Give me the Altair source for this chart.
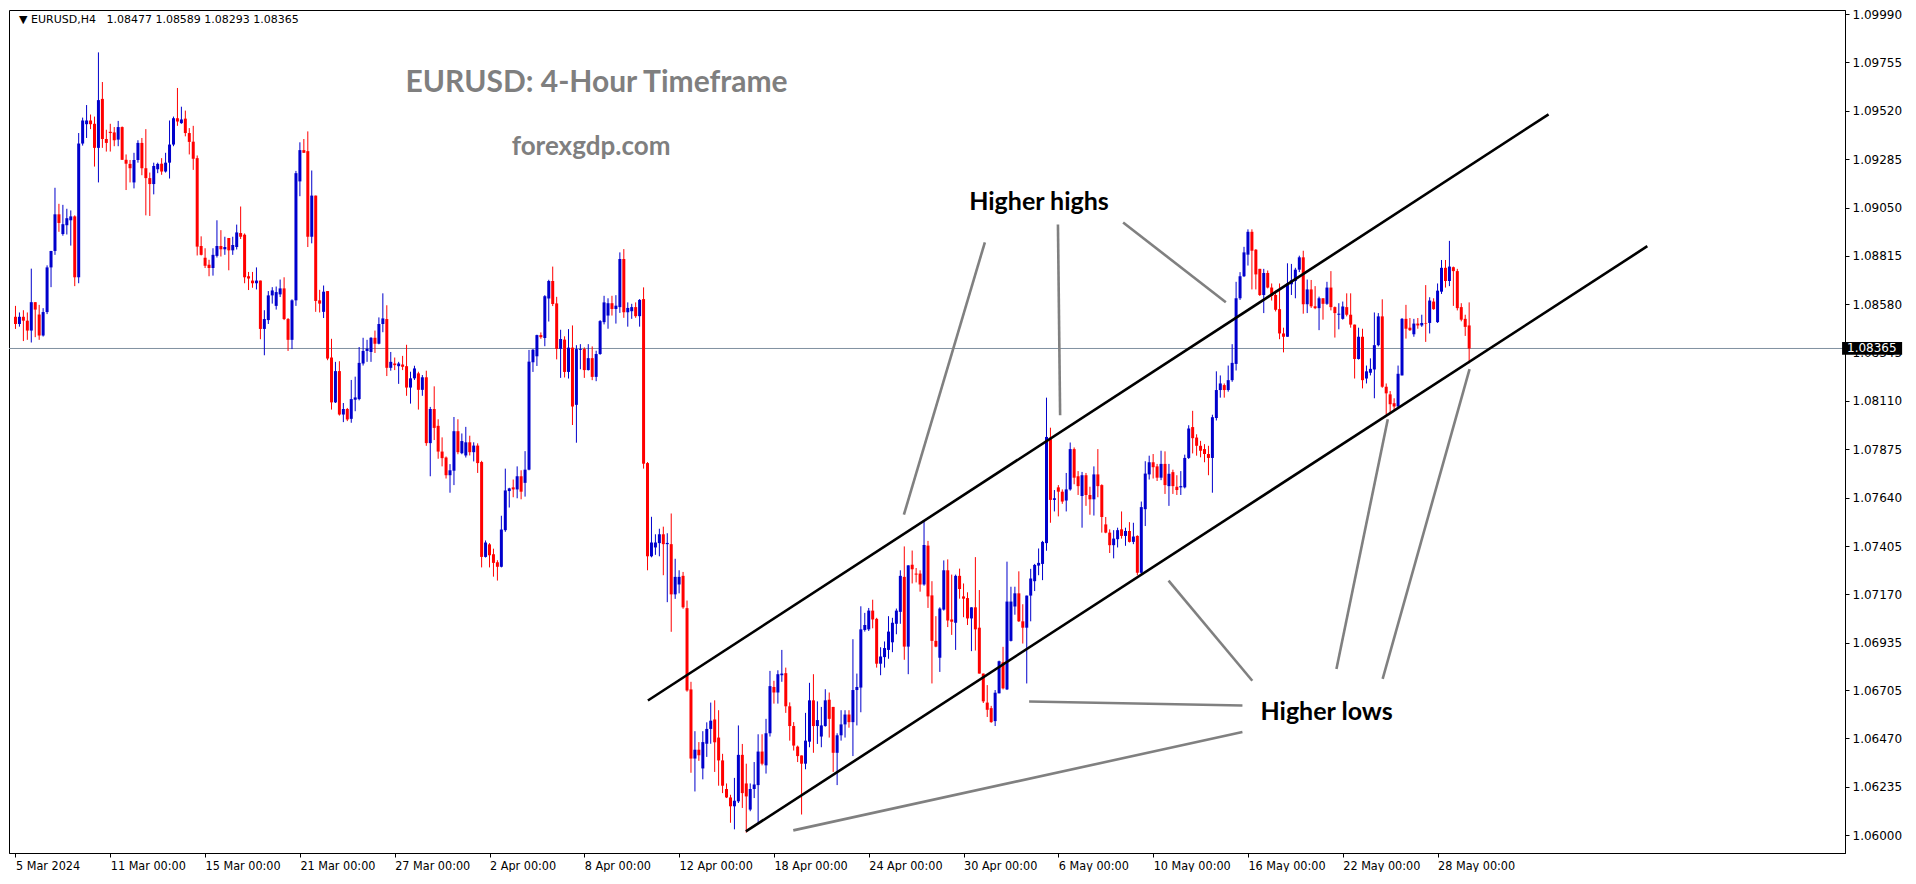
import altair as alt
import pandas as pd

# ---------------- data (prices in points, 1 point = 0.00001) ----------------
open_pts = [
108519,108484,108519,108500,108452,108590,108530,108428,108542,108759,
108839,109017,108921,108964,108988,109007,108711,109361,109455,109473,
109457,109340,109578,109383,109418,109415,109380,109441,109282,109262,
109172,109281,109364,109241,109193,109164,109236,109263,109225,109268,
109356,109484,109460,109482,109412,109370,109290,108863,108806,108772,
108756,108815,108863,108847,108902,108842,108858,108926,108918,108716,
108695,108682,108695,108460,108503,108623,108572,108628,108657,108508,
108407,108599,109177,109329,109324,108908,109108,108599,108543,108644,
108321,108103,108255,108044,108071,108023,108116,108119,108292,108353,
108348,108417,108388,108484,108508,108271,108292,108279,108287,108279,
108175,108220,108244,108164,108225,107905,108071,107989,107864,107835,
107749,107771,107963,107856,107845,107909,107861,107893,107813,107352,
107413,107365,107326,107304,107482,107672,107690,107680,107744,107712,
107776,108298,108327,108430,108416,108608,108693,108584,108363,108408,
108251,108369,108091,108358,108362,108260,108318,108227,108338,108493,
108525,108585,108557,108566,108800,108541,108546,108566,108522,108605,
107808,107355,107398,107419,107462,107414,107414,107170,107218,107260,
107103,106708,106372,106415,106324,106444,106516,106562,106474,106363,
106224,106183,106140,106164,106390,106251,106124,106224,106243,106406,
106339,106495,106720,106693,106777,106787,106626,106530,106430,106387,
106347,106454,106655,106530,106479,106530,106658,106623,106400,106485,
106538,106586,106549,106705,106717,106997,107000,107091,107051,106833,
106865,106900,106937,107027,107085,107255,106916,107314,107271,107271,
107218,107407,107165,106944,106862,107096,107287,107048,107032,107260,
107160,107152,107053,107107,107008,106785,106644,106617,106554,106689,
106840,106708,106944,107111,107175,107039,107008,107164,107234,107310,
107318,107419,107932,107629,107690,107669,107626,107680,107876,107744,
107648,107749,107653,107632,107753,107701,107510,107470,107409,107438,
107486,107454,107478,107425,107454,107275,107584,107753,107812,107792,
107737,107804,107696,107764,107693,107690,107690,107833,107983,107932,
107892,107876,107852,107833,108027,108163,108187,108163,108211,108290,
108609,108716,108821,108932,108845,108752,108625,108732,108661,108625,
108556,108438,108422,108677,108693,108748,108808,108580,108652,108570,
108561,108609,108582,108661,108566,108529,108509,108566,108529,108481,
108314,108422,108219,108247,108263,108381,108521,108179,108142,108099,
108083,108234,108509,108466,108434,108486,108477,108489,108489,108593,
108493,108641,108757,108693,108760,108741,108566,108509,108477]

high_pts = [
108572,108540,108551,108540,108753,108590,108577,108561,108769,108839,
109146,109068,109063,109044,109036,109012,109412,109487,109548,109502,
109492,109804,109660,109428,109457,109441,109471,109444,109308,109281,
109316,109377,109388,109431,109220,109268,109268,109290,109316,109473,
109492,109631,109540,109521,109436,109447,109303,108910,108852,108796,
108852,108988,108940,108908,108902,108908,108967,109055,108924,108737,
108737,108759,108695,108551,108644,108663,108666,108700,108711,108513,
108604,109228,109367,109383,109420,109230,109108,108650,108671,108644,
108412,108300,108303,108100,108076,108212,108228,108372,108417,108407,
108420,108452,108516,108633,108575,108348,108321,108300,108329,108383,
108252,108281,108252,108236,108257,108081,108181,108021,107933,107840,
107803,108032,108021,107952,107984,107941,107909,107904,107819,107432,
107419,107392,107336,107552,107781,107688,107728,107792,107773,107866,
108358,108362,108432,108443,108624,108699,108763,108616,108456,108424,
108459,108477,108381,108386,108370,108386,108375,108354,108503,108621,
108609,108621,108624,108832,108848,108589,108582,108589,108605,108662,
107813,107547,107462,107489,107499,107467,107563,107343,107287,107279,
107140,106745,106505,106452,106505,106548,106644,106655,106607,106395,
106251,106196,106278,106533,106443,106347,106251,106355,106490,106490,
106565,106798,106750,106801,106900,106814,106645,106549,106435,106387,
106594,106740,106782,106650,106623,106709,106693,106623,106495,106607,
106607,106607,106952,106785,107112,107080,107104,107144,107056,106913,
106941,107064,107056,107101,107287,107403,107311,107383,107298,107287,
107531,107430,107234,107064,107107,107335,107340,107266,107266,107295,
107223,107180,107107,107351,107191,106785,106729,106628,106705,106848,
106915,107329,107207,107207,107282,107122,107164,107294,107318,107393,
107430,108126,107980,107677,107701,107680,107760,107908,107884,107769,
107765,107760,107693,107792,107876,107705,107546,107486,107482,107494,
107573,107494,107521,107518,107457,107621,107817,107844,107852,107804,
107868,107865,107804,107776,107749,107769,107849,107992,108062,107948,
107916,107900,107892,108043,108254,108234,108195,108282,108386,108689,
108736,108859,108944,108944,108848,108752,108752,108744,108681,108646,
108681,108466,108779,108776,108757,108816,108840,108700,108698,108668,
108617,108609,108689,108741,108569,108585,108593,108633,108633,108481,
108466,108461,108282,108317,108540,108537,108604,108195,108158,108123,
108282,108513,108577,108513,108509,108513,108529,108673,108614,108609,
108681,108795,108795,108888,108763,108752,108585,108529,108589]

low_pts = [
108460,108471,108401,108407,108394,108420,108407,108423,108532,108663,
108820,108932,108913,108919,108865,108668,108682,109351,109388,109431,
109249,109172,109340,109322,109322,109348,109348,109281,109135,109172,
109143,109268,109207,109012,109009,109114,109217,109209,109220,109191,
109348,109447,109457,109396,109308,109233,108817,108817,108756,108716,
108719,108807,108812,108820,108745,108820,108846,108897,108682,108649,
108660,108652,108410,108332,108484,108583,108554,108615,108503,108353,
108362,108572,109105,109316,108858,108876,108543,108540,108513,108308,
108068,108100,108039,108007,108012,108004,108060,108113,108282,108300,
108300,108343,108385,108444,108231,108257,108260,108193,108260,108135,
108097,108212,108068,108135,107892,107744,107920,107829,107792,107733,
107664,107701,107851,107851,107835,107845,107816,107760,107301,107349,
107301,107256,107237,107301,107474,107592,107642,107637,107632,107645,
107773,108251,108280,108412,108376,108496,108571,108312,108222,108224,
108219,107993,107907,108264,108222,108258,108211,108206,108334,108482,
108461,108525,108486,108538,108514,108471,108509,108514,108471,107781,
107287,107350,107362,107355,107263,107132,106988,107148,107175,107100,
106697,106303,106212,106361,106271,106380,106444,106307,106240,106204,
106180,106060,106028,106156,106132,106012,106116,106180,106060,106339,
106299,106479,106639,106639,106745,106594,106459,106411,106355,106100,
106320,106427,106400,106443,106427,106527,106474,106307,106243,106459,
106474,106522,106384,106533,106597,106989,106992,107005,106814,106777,
106814,106857,106889,106976,107027,106852,106782,107223,107228,107183,
107212,107104,106737,106913,106793,107091,107011,106973,106900,107149,
107059,107021,106894,106897,106785,106642,106574,106546,106530,106689,
106708,106705,106941,107071,107036,106931,106737,107039,107186,107263,
107239,107382,107518,107573,107549,107610,107573,107674,107705,107653,
107494,107600,107557,107553,107642,107470,107467,107371,107345,107398,
107441,107406,107422,107414,107263,107266,107502,107728,107733,107721,
107725,107658,107600,107658,107653,107653,107685,107828,107855,107844,
107836,107812,107749,107664,108015,108126,108126,108155,108203,108258,
108601,108712,108768,108652,108652,108620,108537,108657,108598,108545,
108410,108346,108422,108625,108609,108736,108534,108537,108562,108556,
108454,108505,108577,108550,108418,108458,108505,108521,108466,108219,
108311,108171,108195,108234,108123,108375,108174,108043,108051,108067,
108075,108234,108413,108450,108422,108461,108470,108397,108438,108553,
108489,108630,108661,108668,108572,108550,108497,108426,108293]

close_pts = [
108484,108519,108500,108452,108590,108554,108428,108542,108759,108839,
109017,108975,108969,108998,109007,108711,109361,109473,109473,109455,
109340,109572,109383,109364,109412,109377,109441,109282,109263,109241,
109281,109364,109241,109193,109164,109252,109262,109225,109268,109356,
109484,109468,109478,109412,109369,109287,108860,108820,108767,108756,
108820,108863,108847,108858,108842,108868,108929,108908,108711,108705,
108682,108695,108460,108508,108623,108647,108639,108657,108508,108407,
108599,109217,109329,109316,108908,109108,108596,108583,108641,108316,
108103,108255,108044,108071,108020,108119,108127,108295,108353,108364,
108417,108388,108484,108511,108271,108300,108284,108292,108276,108175,
108220,108268,108164,108225,107905,108071,107979,107864,107832,107749,
107773,107963,107861,107915,107909,107861,107893,107808,107352,107422,
107360,107323,107304,107485,107675,107685,107680,107744,107669,107776,
108301,108359,108430,108420,108619,108693,108581,108363,108411,108251,
108369,108083,108362,108362,108260,108318,108227,108338,108498,108589,
108585,108557,108573,108800,108541,108562,108566,108522,108601,107805,
107355,107422,107422,107462,107414,107420,107170,107255,107255,107107,
106703,106372,106415,106388,106452,106516,106556,106451,106363,106240,
106183,106140,106167,106390,106204,106188,106224,106246,106406,106347,
106495,106724,106693,106782,106785,106626,106530,106435,106384,106347,
106459,106655,106530,106559,106533,106655,106565,106400,106485,106538,
106586,106549,106705,106720,107000,107021,107091,107048,106833,106868,
106909,106989,107032,107091,107260,106916,107311,107292,107266,107218,
107410,107160,106944,106916,107101,107287,107043,107037,107260,107196,
107149,107053,107107,107000,106785,106650,106609,106549,106692,106845,
106713,107135,107135,107175,107039,107008,107164,107247,107313,107323,
107425,107935,107629,107637,107669,107621,107680,107876,107737,107696,
107749,107653,107632,107753,107696,107546,107470,107409,107441,107482,
107454,107478,107425,107451,107275,107594,107757,107812,107788,107737,
107804,107701,107756,107696,107677,107696,107833,107976,107929,107892,
107868,107852,107833,108031,108163,108195,108163,108211,108295,108609,
108716,108832,108932,108840,108725,108625,108732,108661,108620,108553,
108438,108422,108681,108697,108748,108808,108580,108652,108570,108561,
108609,108582,108661,108566,108537,108534,108569,108529,108481,108314,
108422,108211,108254,108266,108381,108521,108179,108147,108094,108083,
108242,108509,108461,108454,108486,108477,108489,108486,108598,108556,
108646,108757,108693,108763,108741,108561,108505,108470,108365]

# time axis (bar index of each label)
tick_bars = [0, 24, 48, 72, 96, 120, 144, 168, 192, 216, 240, 264, 288, 312, 336, 360]
tick_labels = ["5 Mar 2024", "11 Mar 00:00", "15 Mar 00:00", "21 Mar 00:00", "27 Mar 00:00",
               "2 Apr 00:00", "8 Apr 00:00", "12 Apr 00:00", "18 Apr 00:00", "24 Apr 00:00",
               "30 Apr 00:00", "6 May 00:00", "10 May 00:00", "16 May 00:00", "22 May 00:00",
               "28 May 00:00"]
price_ticks = [1.09990, 1.09755, 1.09520, 1.09285, 1.09050, 1.08815, 1.08580, 1.08345,
               1.08110, 1.07875, 1.07640, 1.07405, 1.07170, 1.06935, 1.06705, 1.06470,
               1.06235, 1.06000]

# channel lines (bar index, price)
chan_x1 = [160.1, 184.9]
chan_y1 = [1.06654, 1.06018]
chan_x2 = [388.1, 413.1]
chan_y2 = [1.09503, 1.08862]

# grey pointer lines (bar index, price)
ptr_x1 = [280.4, 263.9, 245.4, 313.1, 310.6, 310.6, 334.4, 346.1]
ptr_y1 = [1.08977, 1.08968, 1.08881, 1.06750, 1.06630, 1.06501, 1.06807, 1.06759]
ptr_x2 = [306.4, 264.45, 224.9, 291.9, 256.6, 196.9, 347.4, 368.1]
ptr_y2 = [1.08590, 1.08040, 1.07557, 1.07237, 1.06649, 1.06023, 1.08021, 1.08265]

# annotation texts (bar index, price)
note_text = ["Higher highs", "Higher lows"]
note_x = [259.1, 331.9]
note_y = [1.09077, 1.06597]
head_text = ["EURUSD: 4-Hour Timeframe", "forexgdp.com"]
head_x = [147.1, 145.7]
head_y = [1.09656, 1.09345]
head_size = [30, 26]

POINT = 1e-5
n = min(len(open_pts), len(high_pts), len(low_pts), len(close_pts))
df = pd.DataFrame({
    "bar": list(range(n)),
    "open": [v * POINT for v in open_pts[:n]],
    "high": [v * POINT for v in high_pts[:n]],
    "low": [v * POINT for v in low_pts[:n]],
    "close": [v * POINT for v in close_pts[:n]],
})
df["hi"] = df[["high", "open", "close"]].max(axis=1)
df["lo"] = df[["low", "open", "close"]].min(axis=1)
df["dir"] = ["up" if c >= o else "down" for o, c in zip(df["open"], df["close"])]

last_o, last_h, last_l, last_c = df["open"].iloc[-1], df["high"].iloc[-1], df["low"].iloc[-1], df["close"].iloc[-1]

X_DOM = [-0.375, 461.875]
Y_DOM = [1.05913, 1.10010]
xs = alt.Scale(domain=X_DOM, nice=False, zero=False)
ys = alt.Scale(domain=Y_DOM, nice=False, zero=False)

lab_arr = "[" + ",".join("'" + t + "'" for t in tick_labels) + "]"
val_arr = "[" + ",".join(str(b) for b in tick_bars) + "]"
xa = alt.Axis(orient="bottom", values=tick_bars, title=None, grid=False,
              labelExpr=f"{lab_arr}[indexof({val_arr}, datum.value)]",
              labelAlign="left", labelBaseline="top", labelFlush=False, labelOverlap=False,
              labelPadding=2, tickSize=4, tickColor="black", domainColor="black",
              labelColor="black", labelFont="'Liberation Sans Narrow', 'DejaVu Sans Condensed', sans-serif",
              labelFontSize=12.5)
ya = alt.Axis(orient="right", values=price_ticks, format=".5f", title=None, grid=False,
              tickSize=4, tickColor="black", domainColor="black", labelColor="black",
              labelFont="DejaVu Sans", labelFontSize=12, labelPadding=3, labelFlush=False,
              labelOverlap=False)

def X(f):
    return alt.X(f, type="quantitative", scale=xs, axis=xa)

def Y(f):
    return alt.Y(f, type="quantitative", scale=ys, axis=ya)

color = alt.Color("dir:N", scale=alt.Scale(domain=["up", "down"], range=["#0000cc", "#ff0000"]), legend=None)

base = alt.Chart(df)

price_line = alt.Chart(pd.DataFrame({"p": [last_c]})).mark_rule(color="#8090a0", strokeWidth=1).encode(y=Y("p"))

wicks = base.mark_rule(strokeWidth=1).encode(x=X("bar"), y=Y("lo"), y2="hi", color=color)
bodies = base.mark_bar(size=3).encode(x=X("bar"), y=Y("open"), y2="close", color=color)

chan_df = pd.DataFrame({"x1": chan_x1, "y1": chan_y1, "x2": chan_x2, "y2": chan_y2})
channels = alt.Chart(chan_df).mark_rule(color="black", strokeWidth=2.6).encode(
    x=X("x1"), x2="x2", y=Y("y1"), y2="y2")

ptr_df = pd.DataFrame({"x1": ptr_x1, "y1": ptr_y1, "x2": ptr_x2, "y2": ptr_y2})
pointers = alt.Chart(ptr_df).mark_rule(color="#808080", strokeWidth=2.6).encode(
    x=X("x1"), x2="x2", y=Y("y1"), y2="y2")

notes = alt.Chart(pd.DataFrame({"t": note_text, "x": note_x, "y": note_y})).mark_text(
    font="Lato", fontWeight="bold", fontSize=25, color="black", align="center", baseline="middle"
).encode(x=X("x"), y=Y("y"), text="t:N")

heads = alt.Chart(pd.DataFrame({"t": head_text, "x": head_x, "y": head_y, "s": head_size})).mark_text(
    font="Lato", fontWeight="bold", color="#7f7f7f", align="center", baseline="middle"
).encode(x=X("x"), y=Y("y"), text="t:N", size=alt.Size("s:Q", scale=None, legend=None))

header_str = "\u25bc EURUSD,H4\u00a0\u00a0 " + " ".join(f"{v:.5f}" for v in [last_o, last_h, last_l, last_c])
header = alt.Chart(pd.DataFrame({"t": [header_str], "x": [0.9], "y": [1.09959]})).mark_text(
    font="DejaVu Sans", fontSize=11, color="black", align="left", baseline="middle"
).encode(x=X("x"), y=Y("y"), text="t:N")

box_df = pd.DataFrame({"x1": [462.4], "x2": [477.6], "y1": [last_c - 0.00031], "y2": [last_c + 0.00031],
                       "tx": [463.65], "ty": [last_c], "t": [f"{last_c:.5f}"]})
pbox = alt.Chart(box_df).mark_rect(color="black").encode(x=X("x1"), x2="x2", y=Y("y1"), y2="y2")
ptext = alt.Chart(box_df).mark_text(font="DejaVu Sans", fontSize=12, color="white", align="left",
                                    baseline="middle").encode(x=X("tx"), y=Y("ty"), text="t:N")

chart = alt.layer(price_line, wicks, bodies, channels, pointers, notes, heads, header, pbox, ptext).properties(
    width=1836, height=843, padding={"left": 0, "top": 0, "right": 0, "bottom": 0}, background="white"
).configure_view(stroke="black", strokeWidth=1)

chart.save("out.html", embed_options={"renderer": "svg", "actions": False})
